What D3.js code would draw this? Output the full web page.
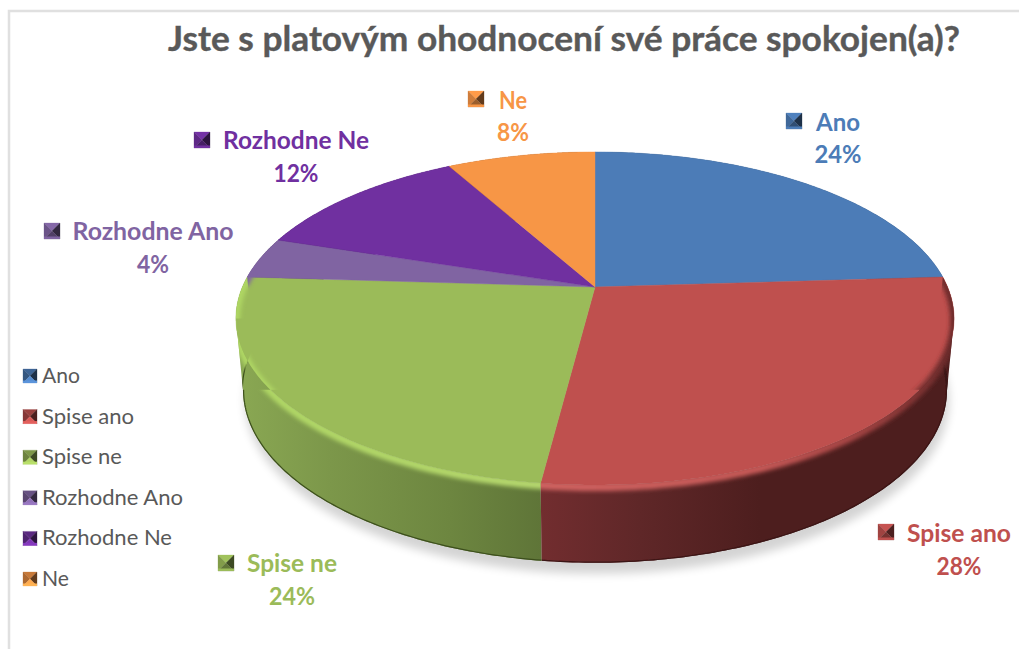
<!DOCTYPE html>
<html lang="cs">
<head>
<meta charset="utf-8">
<script src="https://cdn.jsdelivr.net/npm/d3@7"></script>
<style>html,body{margin:0;padding:0;background:#fff;overflow:hidden}svg{display:block}text{font-family:Lato,"Open Sans",sans-serif}</style>
</head>
<body>
<script>
const titleText = "Jste s platovým ohodnocení své práce spokojen(a)?";
const categories = ["Ano", "Spise ano", "Spise ne", "Rozhodne Ano", "Rozhodne Ne", "Ne"];
const values = [24, 28, 24, 4, 12, 8];
const topColors = ["#4c7cb7", "#bf504e", "#9bbb59", "#8064a2", "#7030a0", "#f79646"];

const W = 1019, H = 649;
const svg = d3.select("body").append("svg").attr("width", W).attr("height", H);
const defs = svg.append("defs");
const pct = d3.format(".0%");
const total = d3.sum(values);

// perspective projection of the unit disc on two planes
const K = 0.189;
const topPlane = {x: 352.6, y: 160.6, y0: 287};
const botPlane = {x: 345.7, y: 166.9, y0: 357};
const cx = 595;
const px = (pl, a) => cx + pl.x * Math.sin(a) / (1 + K * Math.cos(a));
const py = (pl, a, dy = 0) => pl.y0 + dy - pl.y * Math.cos(a) / (1 + K * Math.cos(a));
const slices = d3.pie().sort(null).value(d => d)(values);
const arcPts = (pl, a0, a1, dy = 0) => d3.range(0, 121).map(i => {
  const a = a0 + (a1 - a0) * i / 120;
  return [px(pl, a), py(pl, a, dy)];
});
const line = d3.line();
const fmt = pts => line(pts);

const blur = (id, s) => defs.append("filter").attr("id", id)
  .attr("x", "-20%").attr("y", "-20%").attr("width", "140%").attr("height", "140%")
  .append("feGaussianBlur").attr("stdDeviation", s);
blur("b-shadow", 5); blur("b-bevel", 2.2); blur("b-edge", 0.7);

const gradient = (id, stops) => {
  const g = defs.append("linearGradient").attr("id", id).attr("gradientUnits", "userSpaceOnUse")
    .attr("x1", 236).attr("x2", 954).attr("y1", 0).attr("y2", 0);
  stops.forEach(([o, c]) => g.append("stop").attr("offset", (o - 236) / 718).attr("stop-color", c));
  return `url(#${id})`;
};
const sideFill = [
  gradient("s0", [[236, "#2a4566"], [954, "#2a4566"]]),
  gradient("s1", [[541, "#722d2f"], [640, "#5f2728"], [760, "#4d1e1e"], [954, "#4d1e1e"]]),
  gradient("s2", [[236, "#8aa853"], [330, "#7c974a"], [450, "#6d8640"], [541, "#5f7538"]]),
  "#4a3760", "#3e1a58", "#8a5326"
];
const bevelStroke = [
  gradient("v0", [[900, "#2f5078"], [954, "#2a4566"]]),
  gradient("v1", [[541, "#d26462"], [760, "#c85a58"], [850, "#a84645"], [954, "#6a2a2a"]]),
  gradient("v2", [[236, "#afd764"], [541, "#b7d96f"]]),
  "#8064a2", "#7030a0", "#f79646"
];

// shadow
const fullBot = arcPts(botPlane, 0, 2 * Math.PI);
svg.append("path")
  .attr("d", fmt(fullBot.map(([x, y]) => [x + 2, y + 11])) + "Z")
  .attr("fill", "#000").attr("opacity", 0.17).attr("filter", "url(#b-shadow)");

// chart frame
svg.append("path").attr("d", `M9,${H}V11H${W}`).attr("fill", "none").attr("stroke", "#e0e0e0").attr("stroke-width", 2.5);

// the widest point of each ellipse, used to join the two rims without a notch
const widest = Math.acos(-K);
const tangents = [widest, 2 * Math.PI - widest];

// sides
const order = [4, 5, 3, 0, 2, 1];
order.forEach(i => {
  const s = slices[i];
  const upper = arcPts(topPlane, s.startAngle, s.endAngle);
  const lower = arcPts(botPlane, s.startAngle, s.endAngle).reverse();
  const clip = defs.append("clipPath").attr("id", `c${i}`);
  const outline = fmt(upper.concat(lower)) + "Z";
  clip.append("path").attr("d", outline);
  svg.append("path").attr("d", outline).attr("fill", sideFill[i]);
  tangents.filter(a => a > s.startAngle && a < s.endAngle).forEach(a => {
    const dir = a < Math.PI ? -1 : 1;
    const t = [px(topPlane, a), py(topPlane, a)], b = [px(botPlane, a), py(botPlane, a)];
    const d = fmt([t, b, [b[0] + dir * 40, b[1]], [t[0] + dir * 40, t[1]]]) + "Z";
    clip.append("path").attr("d", d);
    svg.append("path").attr("d", d).attr("fill", sideFill[i]);
  });
});
// dark bottom edge of the front sides
[1, 2].forEach(i => {
  const s = slices[i];
  svg.append("path").attr("clip-path", `url(#c${i})`)
    .attr("d", fmt(arcPts(botPlane, s.startAngle, s.endAngle)))
    .attr("fill", "none").attr("stroke", i === 2 ? "#3c4f1f" : "#3a1414").attr("stroke-width", 2.4)
    .attr("filter", "url(#b-edge)");
});

// top face
slices.forEach((s, i) => {
  const d = fmt([[cx, topPlane.y0]].concat(arcPts(topPlane, s.startAngle, s.endAngle))) + "Z";
  svg.append("path").attr("d", d).attr("fill", topColors[i]).attr("stroke", topColors[i]).attr("stroke-width", 0.4);
});

// bevel highlight along the front rim
const frontA = 87 * Math.PI / 180, frontB = 276 * Math.PI / 180;
slices.forEach((s, i) => {
  const a0 = Math.max(s.startAngle, frontA), a1 = Math.min(s.endAngle, frontB);
  if (a1 <= a0) return;
  const g = svg.append("g").attr("clip-path", `url(#c${i})`);
  g.append("path")
    .attr("d", fmt(arcPts(topPlane, a0 - 0.04, a1 + 0.04, 2)))
    .attr("fill", "none").attr("stroke", bevelStroke[i]).attr("stroke-width", 8)
    .attr("filter", "url(#b-bevel)");
});

// pyramid markers
function marker(g, x, y, size, color, kind) {
  const c = d3.color(color), m = size / 2;
  const shades = kind === "legend"
    ? [c.darker(0.6), c.darker(1.0), c.darker(2.6), c.brighter(0.35)]
    : [c.brighter(0.1), c.darker(0.5), c.darker(2.6), c.darker(1.3)];
  const tris = [
    [[0, 0], [size, 0], [m, m]],
    [[0, 0], [0, size], [m, m]],
    [[size, 0], [size, size], [m, m]],
    [[0, size], [size, size], [m, m]]
  ];
  const mg = g.append("g").attr("transform", `translate(${x},${y})`);
  mg.selectAll("path").data(tris).join("path")
    .attr("d", d => line(d) + "Z")
    .attr("fill", (d, j) => shades[j].formatHex())
    .attr("stroke", (d, j) => shades[j].formatHex()).attr("stroke-width", 0.3);
  mg.append("rect").attr("x", 0).attr("y", size - 2.5).attr("width", size).attr("height", 2.5)
    .attr("fill", (kind === "legend" ? c.brighter(0.5) : c).formatHex());
}

// title
const fitText = (sel, w) => sel.attr("textLength", w).attr("lengthAdjust", "spacingAndGlyphs");
fitText(svg.append("text").attr("x", 168).attr("y", 51).attr("font-size", 35).attr("font-weight", 700)
  .attr("fill", "#595959").attr("stroke", "#595959").attr("stroke-width", 0.4).text(titleText), 792);

// legend
const legendY = d3.scalePoint().domain(categories).range([383, 586]);
const legendWidths = [38, 92, 80, 141, 130, 27];
const legend = svg.append("g");
categories.forEach((c, i) => {
  marker(legend, 23, legendY(c) - 14, 14, topColors[i], "legend");
  fitText(legend.append("text").attr("x", 42).attr("y", legendY(c)).attr("font-size", 20.5)
    .attr("fill", "#595959").text(c), legendWidths[i]);
});

// data labels
const labelLayout = [
  {cx: 838, y1: 131, y2: 163, w: 44, w2: 47, kx: 786, ky: 113},
  {cx: 959, y1: 542, y2: 575, w: 104, w2: 45, kx: 878, ky: 524},
  {cx: 292, y1: 572, y2: 605, w: 90, w2: 46, kx: 218, ky: 555},
  {cx: 153, y1: 240, y2: 273, w: 161, w2: 32, kx: 44, ky: 223},
  {cx: 296, y1: 149, y2: 182, w: 146, w2: 45, kx: 194, ky: 132},
  {cx: 513, y1: 109, y2: 141, w: 28, w2: 32, kx: 468, ky: 91}
];
const labels = svg.append("g");
categories.forEach((c, i) => {
  const l = labelLayout[i];
  fitText(labels.append("text").attr("x", l.cx).attr("y", l.y1).attr("text-anchor", "middle")
    .attr("font-size", 24).attr("font-weight", 700).attr("fill", topColors[i]).text(c), l.w);
  fitText(labels.append("text").attr("x", l.cx).attr("y", l.y2).attr("text-anchor", "middle")
    .attr("font-size", 24).attr("font-weight", 700).attr("fill", topColors[i]).text(pct(values[i] / total)), l.w2);
  marker(labels, l.kx, l.ky, 16, topColors[i], "label");
});
</script>
</body>
</html>
